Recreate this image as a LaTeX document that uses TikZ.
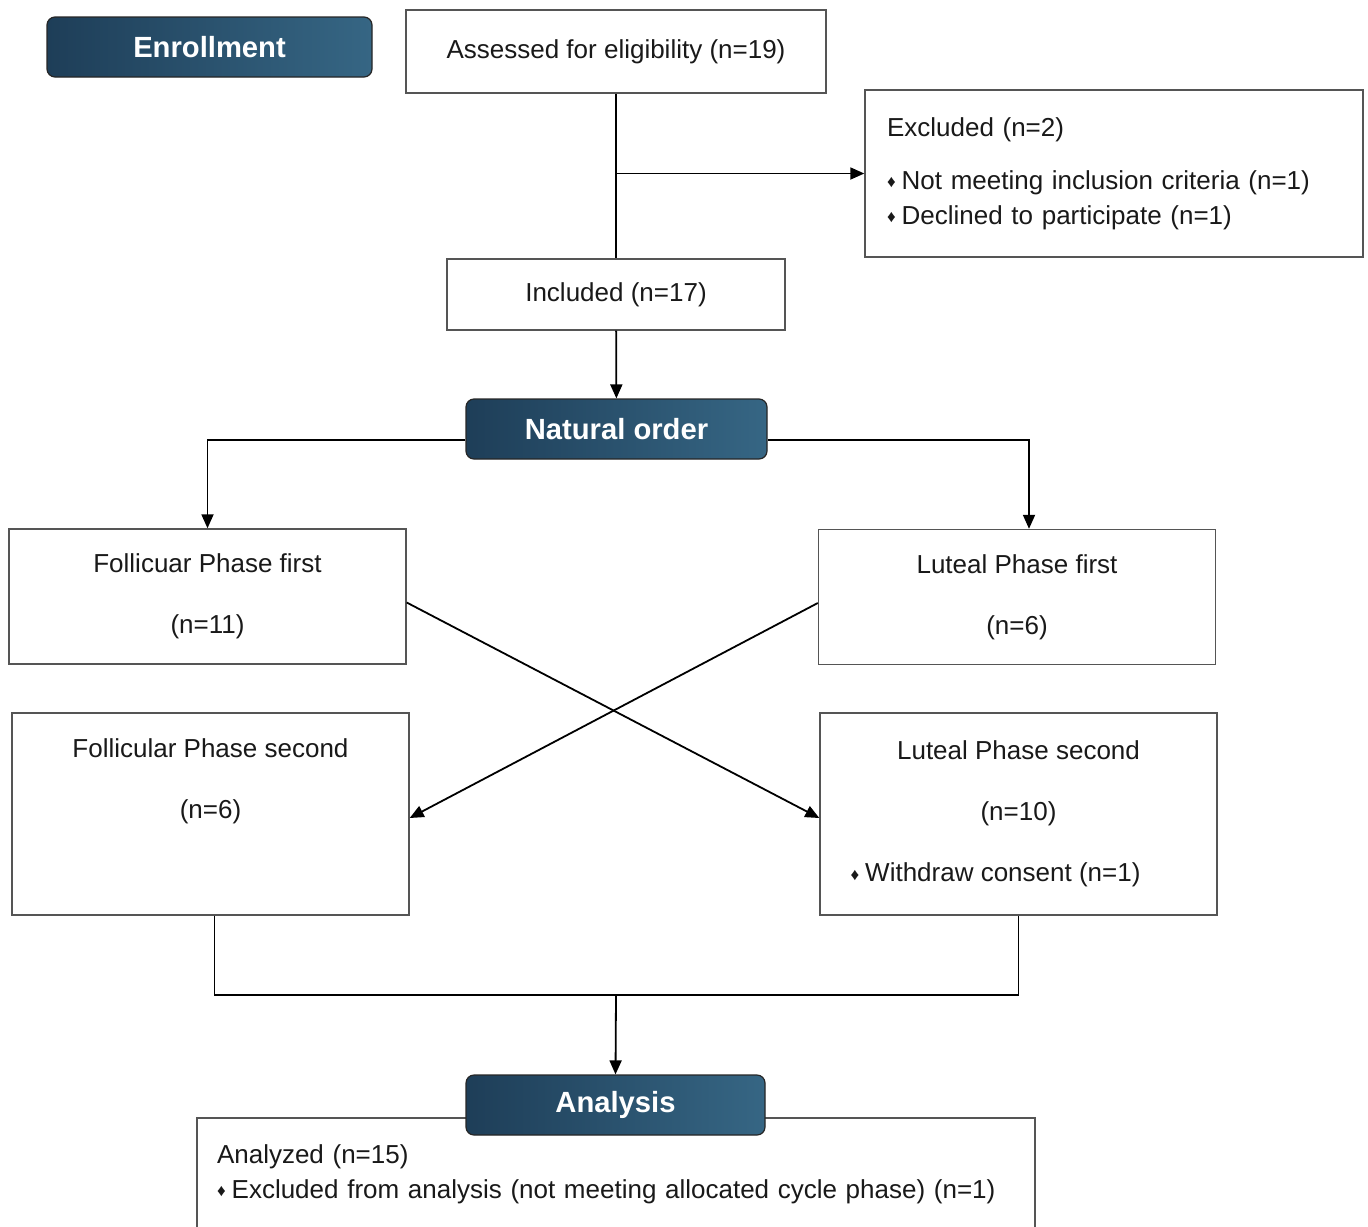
\documentclass[tikz,border=0pt]{standalone}
\usepackage{fontspec}
\setmainfont{Liberation Sans}
\usetikzlibrary{arrows.meta,positioning,calc}
\definecolor{hdrdark}{RGB}{30,62,88}
\definecolor{hdrlight}{RGB}{54,102,132}
\definecolor{boxline}{RGB}{85,85,85}
\newcommand{\bul}{{\fontsize{8.5}{8.5}\selectfont\raisebox{0.8pt}{♦}}\hspace{3pt}}

\begin{document}
\begin{tikzpicture}[x=0.5pt,y=-0.5pt,
  box/.style={draw=boxline, line width=0.7pt, fill=white, inner sep=0pt, align=center,
    text=black!90, font=\fontsize{13}{17.5}\selectfont},
  hdr/.style={draw=black!85, line width=0.6pt, rounded corners=4pt, left color=hdrdark,
    right color=hdrlight, text=white, font=\fontsize{14.6}{16}\selectfont\bfseries, minimum height=30pt},
  conn/.style={line width=0.9pt},
  arr/.style={conn, -{Triangle[length=7pt,width=6pt]}}]
\useasboundingbox (0,0) rectangle (1368,1226);
% Enrollment
\node[hdr, minimum width=162.5pt] (enroll) at (209.5,47) {Enrollment};
\node[box, minimum width=210pt, minimum height=41.5pt] (assess) at (616,51.5) {Assessed for eligibility (n=19)};
\node[box, minimum width=249pt, minimum height=83.5pt, text width=227pt, align=left] (excl) at (1114,173.5)
  {Excluded (n=2)\\[9pt]\bul Not meeting inclusion criteria (n=1)\\\bul Declined to participate (n=1)};
\node[box, minimum width=169pt, minimum height=35.5pt] (incl) at (616,294.5) {Included (n=17)};
% Allocation
\node[hdr, minimum width=150.5pt] (natural) at (616.5,429) {Natural order};
\node[box, minimum width=198.5pt, minimum height=67.5pt] (ffirst) at (207.5,596.5) {Follicuar Phase first\\[13pt](n=11)};
\node[box, minimum width=198.5pt, minimum height=67.5pt] (lfirst) at (1017,597) {Luteal Phase first\\[13pt](n=6)};
\node[box, minimum width=198.5pt, minimum height=101pt] (fsecond) at (210.5,814)
  {Follicular Phase second\\[13pt](n=6)\\[13pt]\strut};
\node[box, minimum width=198.5pt, minimum height=101pt] (lsecond) at (1018.5,814)
  {Luteal Phase second\\[13pt](n=10)\\[13pt]\bul Withdraw consent (n=1)\hspace*{23pt}};
% Analysis
\node[box, minimum width=419pt, minimum height=56pt, text width=399pt, align=left] (analyzed) at (616,1174)
  {Analyzed (n=15)\\\bul Excluded from analysis (not meeting allocated cycle phase) (n=1)};
\node[hdr, minimum width=149.5pt] (analysis) at (615.5,1105) {Analysis};
\coordinate (join) at (616,995);
% connectors
\draw[conn] (assess.south) -- (incl.north);
\draw[arr] (assess.south |- excl.west) -- (excl.west);
\draw[arr] (incl) -- (natural);
\draw[arr] ([yshift=-5.5pt]natural.west) -| (ffirst.north);
\draw[arr] ([yshift=-5.5pt]natural.east) -| ([xshift=6pt]lfirst.north);
\draw[arr] ([yshift=-3pt]ffirst.east) -- ([yshift=-2pt]lsecond.west);
\draw[arr] ([yshift=-3pt]lfirst.west) -- ([yshift=-2pt]fsecond.east);
\draw[conn] ([xshift=2pt]fsecond.south) |- (lsecond.south |- join) -- (lsecond.south);
\draw[arr] (join) -- (analysis.north);
\end{tikzpicture}
\end{document}
